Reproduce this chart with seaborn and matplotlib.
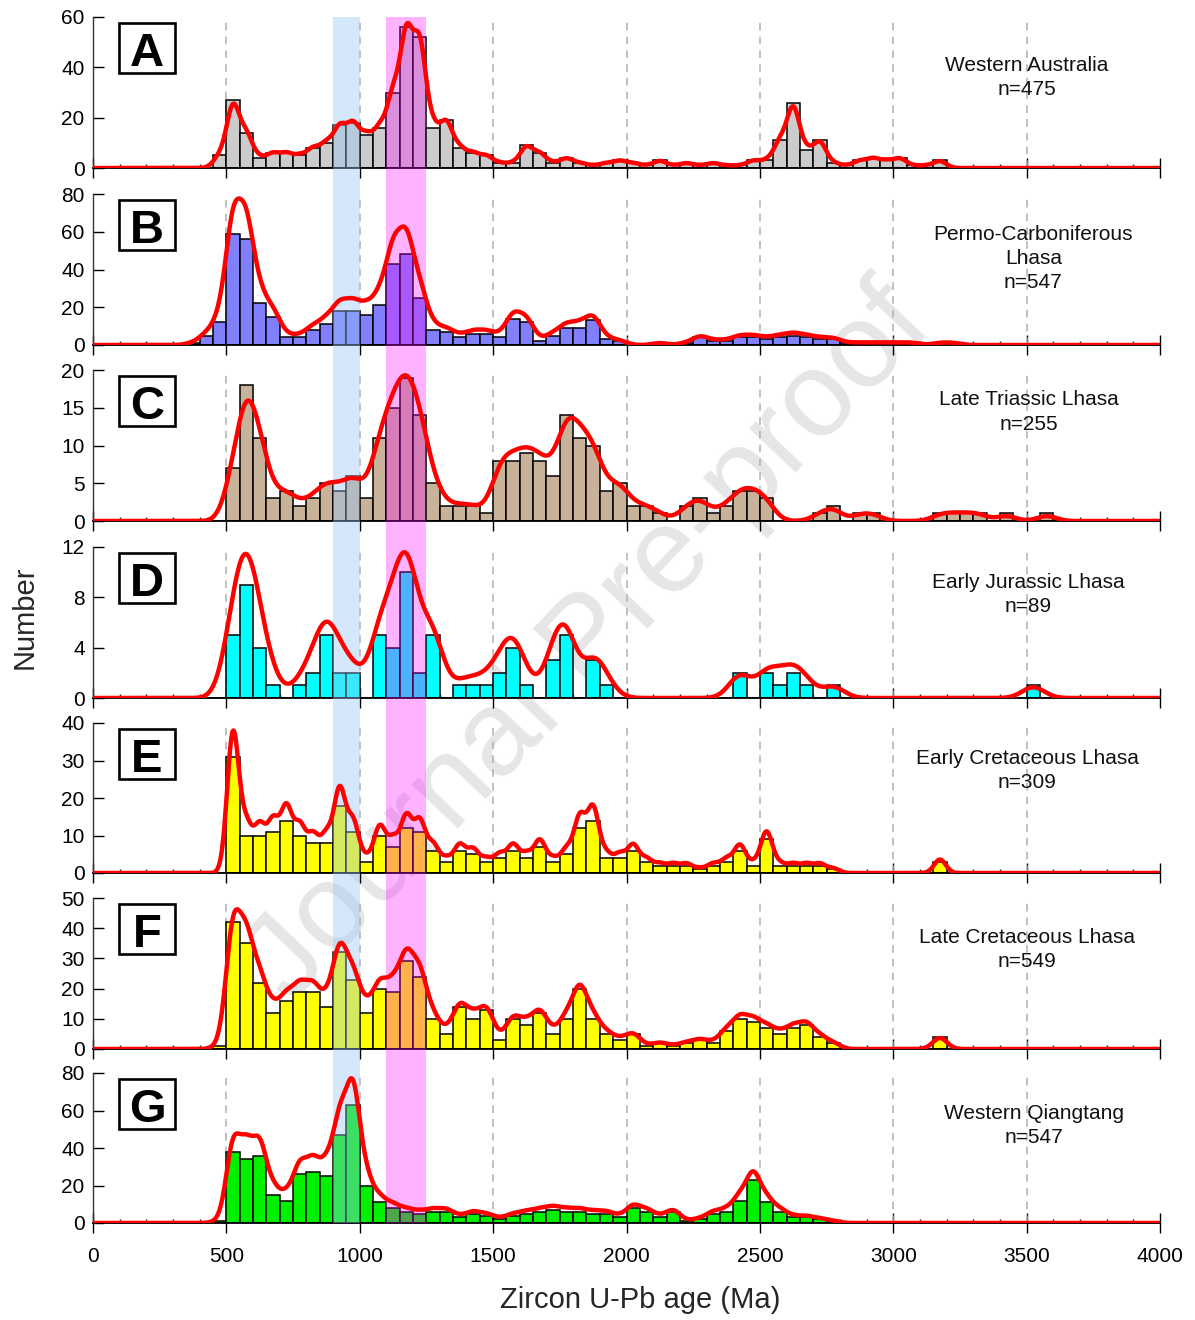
import numpy as np
import pandas as pd
import matplotlib
matplotlib.use("Agg")
import matplotlib.pyplot as plt
from matplotlib.patches import Rectangle
from matplotlib.ticker import MultipleLocator
import seaborn as sns

sns.set_theme(style="ticks")
plt.rcParams['font.family'] = ['Liberation Sans', 'DejaVu Sans']

# Zircon U-Pb age histograms: lower bin edge (Ma) and number of grains per 50 Ma bin
wa_ages = list(range(450, 3200, 50))
wa_counts = [5, 27, 14, 4, 6, 6, 5, 8, 10, 17,
             18, 13, 16, 30, 56, 52, 16, 19, 8, 6,
             5, 2, 2, 9, 6, 2, 4, 2, 1, 2,
             3, 2, 1, 3, 1, 2, 1, 2, 1, 1,
             3, 3, 11, 26, 7, 11, 2, 1, 3, 4,
             3, 4, 1, 1, 3]

pc_ages = list(range(350, 3250, 50))
pc_counts = [1, 5, 12, 59, 56, 22, 15, 4, 4, 8,
             11, 18, 18, 16, 21, 43, 48, 25, 8, 7,
             4, 6, 6, 4, 14, 12, 2, 5, 9, 9,
             13, 3, 2, 0, 0, 1, 0, 1, 4, 2,
             2, 4, 4, 3, 4, 5, 4, 3, 3, 1,
             1, 1, 1, 1, 1, 0, 1, 1]

lt_ages = list(range(500, 3600, 50))
lt_counts = [7, 18, 11, 3, 4, 2, 3, 5, 4, 6,
             3, 11, 15, 19, 14, 5, 2, 2, 2, 1,
             8, 8, 9, 8, 6, 14, 11, 10, 4, 5,
             2, 2, 1, 0, 2, 3, 1, 2, 4, 4,
             3, 0, 0, 0, 1, 2, 0, 1, 1, 0,
             0, 0, 0, 1, 1, 1, 1, 0, 1, 0,
             0, 1]

ej_ages = list(range(500, 3600, 50))
ej_counts = [5, 9, 4, 1, 0, 1, 2, 5, 2, 2,
             0, 5, 4, 10, 2, 5, 0, 1, 1, 1,
             2, 4, 1, 0, 3, 5, 0, 3, 1, 0,
             0, 0, 0, 0, 0, 0, 0, 0, 2, 0,
             2, 1, 2, 1, 0, 1, 0, 0, 0, 0,
             0, 0, 0, 0, 0, 0, 0, 0, 0, 0,
             1, 0]

ek_ages = list(range(500, 3250, 50))
ek_counts = [31, 10, 10, 11, 14, 10, 8, 8, 18, 11,
             3, 10, 7, 12, 11, 6, 3, 6, 5, 3,
             4, 6, 4, 7, 3, 5, 12, 14, 4, 4,
             6, 3, 2, 2, 2, 1, 2, 3, 6, 2,
             9, 2, 2, 2, 2, 1, 0, 0, 0, 0,
             0, 0, 0, 3, 0]

lk_ages = list(range(450, 3250, 50))
lk_counts = [1, 42, 35, 22, 12, 16, 19, 19, 14, 32,
             23, 12, 20, 19, 29, 24, 10, 5, 14, 10,
             13, 3, 10, 8, 12, 5, 10, 20, 10, 5,
             3, 5, 1, 2, 1, 2, 3, 2, 6, 10,
             9, 7, 5, 7, 8, 4, 2, 0, 0, 0,
             0, 0, 0, 0, 4, 0]

wq_ages = list(range(450, 2850, 50))
wq_counts = [1, 38, 34, 36, 15, 12, 26, 27, 25, 47,
             63, 20, 11, 8, 6, 5, 6, 6, 3, 5,
             4, 2, 4, 5, 6, 7, 6, 6, 5, 5,
             3, 8, 6, 3, 6, 1, 2, 5, 6, 12,
             23, 11, 6, 3, 3, 2, 1, 0]

panel_letters = ["A", "B", "C", "D", "E", "F", "G"]
panel_titles = ["Western Australia\nn=475",
                "Permo-Carboniferous\nLhasa\nn=547",
                "Late Triassic Lhasa\nn=255",
                "Early Jurassic Lhasa\nn=89",
                "Early Cretaceous Lhasa\nn=309",
                "Late Cretaceous Lhasa\nn=549",
                "Western Qiangtang\nn=547"]
panel_data = [(wa_ages, wa_counts), (pc_ages, pc_counts), (lt_ages, lt_counts),
              (ej_ages, ej_counts), (ek_ages, ek_counts), (lk_ages, lk_counts),
              (wq_ages, wq_counts)]
y_max = [60, 80, 20, 12, 40, 50, 80]
y_step = [20, 20, 5, 4, 10, 10, 20]
bar_colors = ["#cccccc", "#8080ff", "#c8b29a", "#00ffff", "#ffff00", "#ffff00", "#00f000"]

# KDE bandwidth (Ma) and height of the curve maximum as a fraction of each panel
kde_sigma = [24, 28, 36, 42, 22, 27, 26]
curve_peak = [0.96, 0.97, 0.965, 0.965, 0.95, 0.925, 0.965]
# title anchor: centre age and baseline of the last line (axes fraction)
title_x = [3500, 3525, 3510, 3505, 3503, 3501, 3527]
title_y = [0.483, 0.377, 0.605, 0.571, 0.567, 0.543, 0.533]

bin_width = 50

W, H = 1195, 1320
fig = plt.figure(figsize=(W / 100, H / 100), dpi=100)
fig.patch.set_facecolor("white")

left_px, right_px = 93, 1160
tops = [17, 194, 370, 547, 723, 898, 1073]
bottoms = [168, 345, 521, 698, 873, 1049, 1223]

# watermark behind the panels
fig.text(590 / W, 1 - 645 / H, "Journal Pre-proof", fontsize=87, color="#e6e6e9",
         rotation=46.5, ha="center", va="center", rotation_mode="anchor", zorder=-1)

for i in range(7):
    ages, counts = panel_data[i]
    df = pd.DataFrame({"age": np.asarray(ages, dtype=float) + bin_width / 2,
                       "n": np.asarray(counts, dtype=float)})
    rect = [left_px / W, 1 - bottoms[i] / H, (right_px - left_px) / W, (bottoms[i] - tops[i]) / H]
    ax = fig.add_axes(rect)
    ax.set_facecolor("none")
    ax.set_zorder(0)
    tw = ax.twinx()
    tw.set_zorder(2)

    sns.histplot(data=df, x="age", weights="n", binwidth=bin_width, binrange=(0, 4000),
                 color=bar_colors[i], edgecolor="black", linewidth=1.1, alpha=1, ax=ax, zorder=2)

    std = np.sqrt(np.cov(df["age"].to_numpy(), aweights=df["n"].to_numpy()))
    sns.kdeplot(data=df, x="age", weights="n", bw_method=kde_sigma[i] / std,
                gridsize=2000, cut=200, clip=(0, 4000), color="red", lw=3.2, ax=tw)
    peak = tw.lines[-1].get_ydata().max()
    tw.set_ylim(0, peak / curve_peak[i])
    tw.set_yticks([])
    tw.set_ylabel("")
    for s in tw.spines.values():
        s.set_visible(False)

    ax.set_xlim(0, 4000)
    ax.set_ylim(0, y_max[i])
    ax.set_xlabel("")
    ax.set_ylabel("")
    for g in range(500, 4000, 500):
        ax.axvline(g, color="#b0b0b0", lw=1.1, ls=(0, (5, 4)), zorder=1)

    ax.xaxis.set_major_locator(MultipleLocator(500))
    ax.xaxis.set_minor_locator(MultipleLocator(100))
    ax.yaxis.set_major_locator(MultipleLocator(y_step[i]))
    ax.tick_params(axis="x", which="major", direction="inout", length=14, width=1,
                   bottom=True, top=False, labelsize=15, pad=10, labelbottom=(i == 6), colors="black")
    ax.tick_params(axis="x", which="minor", direction="in", length=3, width=1, bottom=True, top=False)
    ax.tick_params(axis="y", which="major", direction="in", length=8, width=1,
                   left=True, right=False, labelsize=15, pad=6, colors="black")
    ax.spines["top"].set_visible(False)
    ax.spines["right"].set_visible(False)
    ax.spines["bottom"].set_linewidth(1.3)
    ax.spines["bottom"].set_color("black")
    ax.spines["left"].set_linewidth(1.0)
    ax.spines["left"].set_color("#333333")

    # boxed panel letter
    ax.add_patch(Rectangle((0.0244, 0.626), 0.0525, 0.334, transform=ax.transAxes,
                           facecolor="white", edgecolor="black", lw=1.9, zorder=5))
    ax.text(0.0506, 0.675, panel_letters[i], transform=ax.transAxes, fontsize=34,
            fontweight="bold", ha="center", va="baseline", zorder=6, color="black")

    ax.text(title_x[i], title_y[i], panel_titles[i], transform=ax.get_xaxis_transform(),
            fontsize=15, ha="center", va="baseline", linespacing=1.35, color="#111111", zorder=6)

# age windows shaded continuously through the stack
y0 = 1 - bottoms[-1] / H
y1 = 1 - tops[0] / H
def age_to_fig(a):
    return (left_px + a * (right_px - left_px) / 4000) / W
fig.add_artist(Rectangle((age_to_fig(900), y0), age_to_fig(1000) - age_to_fig(900), y1 - y0,
                         transform=fig.transFigure, facecolor=(0.59, 0.78, 0.96), alpha=0.4,
                         edgecolor="none", zorder=1))
fig.add_artist(Rectangle((age_to_fig(1100), y0), age_to_fig(1250) - age_to_fig(1100), y1 - y0,
                         transform=fig.transFigure, facecolor=(1.0, 0.0, 1.0), alpha=0.3,
                         edgecolor="none", zorder=1))

fig.text(25 / W, 1 - 617 / H, "Number", rotation=90, fontsize=21, ha="center", va="center")
fig.text(640 / W, 1 - 1300 / H, "Zircon U-Pb age (Ma)", fontsize=21, ha="center", va="center")

fig.savefig("out.png", dpi=100)
